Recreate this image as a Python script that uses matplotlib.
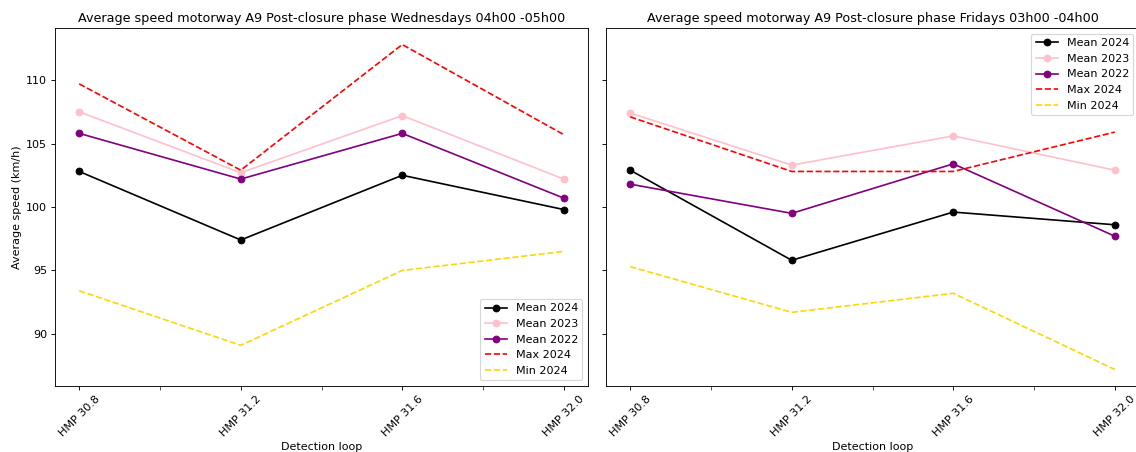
import matplotlib
matplotlib.use('Agg')
import matplotlib.pyplot as plt
import numpy as np

# detection loops (hectometre posts)
hmp = [30.8, 31.2, 31.6, 32.0]
hmp_labels = ['HMP 30.8', 'HMP 31.2', 'HMP 31.6', 'HMP 32.0']
mid_ticks = [31.0, 31.4, 31.8]

# Wednesdays 04h00-05h00
wed_mean_2024 = [102.8, 97.4, 102.5, 99.8]
wed_mean_2023 = [107.5, 102.7, 107.2, 102.2]
wed_mean_2022 = [105.8, 102.2, 105.8, 100.7]
wed_max_2024 = [109.7, 102.9, 112.8, 105.7]
wed_min_2024 = [93.4, 89.1, 95.0, 96.5]

# Fridays 03h00-04h00
fri_mean_2024 = [102.9, 95.8, 99.6, 98.6]
fri_mean_2023 = [107.4, 103.3, 105.6, 102.9]
fri_mean_2022 = [101.8, 99.5, 103.4, 97.7]
fri_max_2024 = [107.1, 102.8, 102.8, 105.9]
fri_min_2024 = [95.3, 91.7, 93.2, 87.2]

titles = ['Average speed motorway A9 Post-closure phase Wednesdays 04h00 -05h00',
          'Average speed motorway A9 Post-closure phase Fridays 03h00 -04h00']

fig = plt.figure(figsize=(14.2, 5.65), dpi=80)
ax1 = fig.add_axes([55/1136, 1 - 385.7/452, 533/1136, 357.4/452])
ax2 = fig.add_axes([606/1136, 1 - 385.7/452, 533/1136, 357.4/452], sharey=ax1)

panels = [
    (ax1, wed_mean_2024, wed_mean_2023, wed_mean_2022, wed_max_2024, wed_min_2024, 'lower right'),
    (ax2, fri_mean_2024, fri_mean_2023, fri_mean_2022, fri_max_2024, fri_min_2024, 'upper right'),
]

for i, (ax, m24, m23, m22, mx24, mn24, loc) in enumerate(panels):
    ax.plot(hmp, m24, marker='o', color='black', label='Mean 2024')
    ax.plot(hmp, m23, marker='o', color='pink', label='Mean 2023')
    ax.plot(hmp, m22, marker='o', color='purple', label='Mean 2022')
    ax.plot(hmp, mx24, linestyle='--', color='red', label='Max 2024')
    ax.plot(hmp, mn24, linestyle='--', color='gold', label='Min 2024')
    ax.set_title(titles[i], fontsize=11.5)
    ax.set_xlabel('Detection loop')
    ax.set_xticks(hmp)
    ax.set_xticklabels(hmp_labels, rotation=45)
    ax.set_xticks(mid_ticks, minor=True)
    ax.tick_params(axis='x', which='minor', length=3.5)
    ax.set_yticks([90, 95, 100, 105, 110])
    ax.legend(loc=loc)

ax1.set_ylabel('Average speed (km/h)')
ax2.tick_params(axis='y', labelleft=False)

fig.savefig('out.png', dpi=80)
